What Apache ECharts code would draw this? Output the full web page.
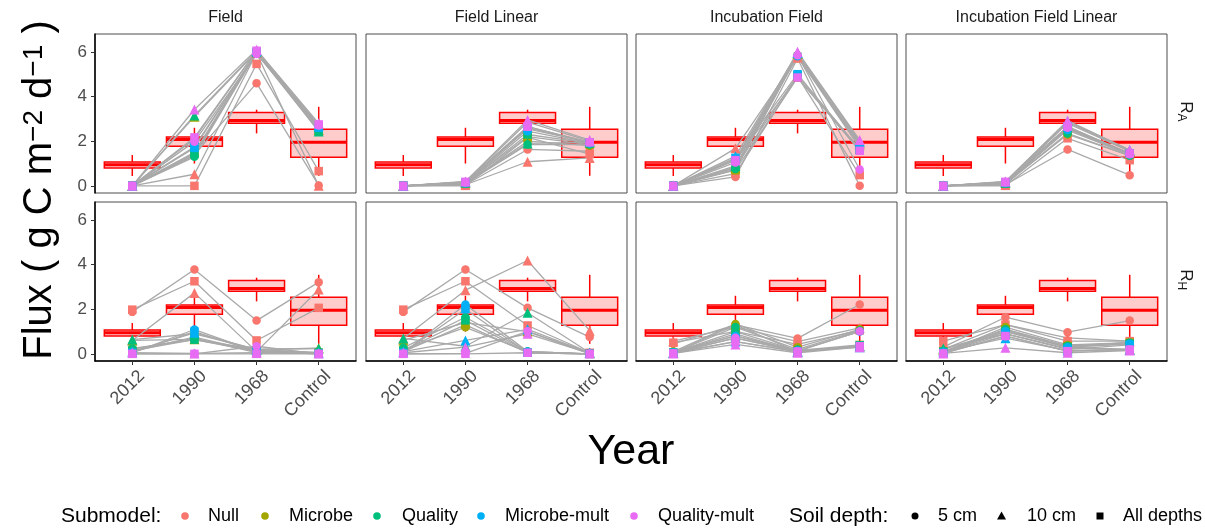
<!DOCTYPE html>
<html><head><meta charset="utf-8">
<script src="https://cdn.jsdelivr.net/npm/echarts@6/dist/echarts.min.js"></script>
<style>html,body{margin:0;padding:0;background:#fff}#c{width:1205px;height:528px}</style>
</head><body><div id="c"></div>
<script>
const categories = ['2012', '1990', '1968', 'Control'];
const facets = ['Field', 'Field Linear', 'Incubation Field', 'Incubation Field Linear'];
const responses = ['A', 'H'];
const submodels = ['Null', 'Microbe', 'Quality', 'Microbe-mult', 'Quality-mult'];
const submodelColors = ['#F8766D', '#A3A500', '#00BF7D', '#00B0F6', '#E76BF3'];
const depths = ['5 cm', '10 cm', 'All depths'];
const depthSymbols = ['circle', 'triangle', 'rect'];
const yTicks = [0, 2, 4, 6];
// observed boxplot stats per category: [lower whisker, Q1, median, Q3, upper whisker]
const boxStats = [
  [0.44, 0.80, 0.95, 1.07, 1.38],
  [1.00, 1.77, 2.08, 2.19, 2.60],
  [2.35, 2.80, 2.93, 3.29, 3.41],
  [0.45, 1.28, 1.95, 2.53, 3.54]
];
// rows: Null(5cm,10cm,All), Microbe(...), Quality(...), Microbe-mult(...), Quality-mult(...); columns = categories
const field_RA = [
  [0, 1.40, 4.60, 0.02], [0, 0.52, 5.95, 0.00], [0, 0.00, 5.46, 0.66],
  [0, 1.35, 6.00, 2.60], [0, 3.10, 6.00, 2.50], [0, 1.50, 5.95, 2.55],
  [0, 1.30, 5.95, 2.45], [0, 3.15, 6.05, 2.43], [0, 1.45, 6.00, 2.50],
  [0, 1.75, 6.00, 2.65], [0, 2.10, 6.05, 2.70], [0, 1.70, 5.95, 2.60],
  [0, 1.98, 5.90, 2.70], [0, 3.42, 6.10, 2.80], [0, 2.17, 6.05, 2.75]
];
const fieldLinear_RA = [
  [0, 0.05, 1.63, 1.55], [0, 0.05, 1.08, 1.25], [0, 0.00, 2.17, 1.42],
  [0, 0.10, 2.00, 1.80], [0, 0.15, 2.60, 1.95], [0, 0.12, 2.20, 1.85],
  [0, 0.10, 1.85, 1.85], [0, 0.15, 1.90, 1.95], [0, 0.12, 2.30, 1.90],
  [0, 0.12, 2.45, 1.90], [0, 0.18, 2.85, 2.00], [0, 0.15, 2.55, 1.95],
  [0, 0.15, 2.65, 1.95], [0, 0.20, 2.95, 2.05], [0, 0.18, 2.65, 1.95]
];
const incubation_RA = [
  [0, 0.40, 5.70, 0.00], [0, 1.68, 5.75, 1.90], [0, 0.55, 4.90, 0.48],
  [0, 0.73, 5.85, 1.78], [0, 0.80, 5.90, 1.85], [0, 0.70, 4.85, 1.60],
  [0, 0.75, 5.85, 1.80], [0, 0.90, 5.95, 1.95], [0, 0.85, 4.95, 1.65],
  [0, 1.20, 5.80, 1.70], [0, 1.33, 5.95, 2.00], [0, 1.25, 5.00, 1.60],
  [0, 1.05, 5.85, 0.73], [0, 1.15, 6.00, 2.05], [0, 1.15, 4.85, 1.57]
];
const incubationLinear_RA = [
  [0, 0.05, 1.63, 0.48], [0, 0.05, 2.60, 1.45], [0, 0.00, 2.13, 1.15],
  [0, 0.10, 2.30, 1.35], [0, 0.15, 2.80, 1.55], [0, 0.12, 2.55, 1.40],
  [0, 0.10, 2.35, 1.35], [0, 0.15, 2.85, 1.55], [0, 0.12, 2.60, 1.45],
  [0, 0.12, 2.50, 1.40], [0, 0.18, 2.90, 1.60], [0, 0.15, 2.65, 1.45],
  [0, 0.15, 2.60, 1.42], [0, 0.20, 2.92, 1.60], [0, 0.18, 2.65, 1.45]
];
const field_RH = [
  [1.88, 3.78, 1.49, 3.21], [0.60, 2.73, 0.10, 2.88], [1.98, 3.25, 0.60, 2.06],
  [0.20, 0.70, 0.05, 0.02], [0.60, 0.65, 0.20, 0.25], [0.10, 0.75, 0.10, 0.05],
  [0.24, 0.64, 0.10, 0.02], [0.64, 0.90, 0.20, 0.24], [0.15, 0.64, 0.15, 0.05],
  [0.05, 1.09, 0.10, 0.00], [0.10, 0.94, 0.20, 0.05], [0.05, 1.00, 0.10, 0.00],
  [0.00, 0.00, 0.34, 0.00], [0.05, 0.02, 0.05, 0.02], [0.00, 0.00, 0.00, 0.00]
];
const fieldLinear_RH = [
  [1.88, 3.78, 2.06, 0.75], [0.69, 2.85, 4.18, 1.04], [1.98, 3.25, 1.27, 0.05],
  [0.20, 1.19, 0.10, 0.00], [0.60, 1.40, 1.00, 0.05], [0.10, 1.30, 0.05, 0.00],
  [0.27, 1.64, 0.10, 0.00], [0.69, 0.34, 1.84, 0.05], [0.15, 1.50, 0.05, 0.00],
  [0.05, 2.21, 0.10, 0.00], [0.10, 0.60, 1.10, 0.05], [0.05, 2.00, 0.05, 0.00],
  [0.00, 0.02, 1.01, 0.00], [0.05, 0.30, 0.90, 0.02], [0.00, 0.00, 0.05, 0.00]
];
const incubation_RH = [
  [0.45, 1.30, 0.69, 2.21], [0.57, 1.20, 0.55, 1.16], [0.50, 1.01, 0.42, 1.05],
  [0.10, 1.34, 0.30, 1.10], [0.05, 1.30, 0.10, 0.35], [0.05, 1.00, 0.15, 0.40],
  [0.05, 1.20, 0.20, 1.05], [0.05, 0.80, 0.10, 0.35], [0.05, 0.90, 0.10, 0.38],
  [0.05, 0.80, 0.15, 1.00], [0.05, 0.55, 0.10, 0.30], [0.05, 0.70, 0.10, 0.35],
  [0.02, 0.72, 0.12, 1.01], [0.02, 0.42, 0.05, 0.30], [0.02, 0.55, 0.10, 0.34]
];
const incubationLinear_RH = [
  [0.30, 1.64, 0.97, 1.49], [0.20, 1.31, 0.72, 0.57], [0.57, 1.31, 0.57, 0.57],
  [0.05, 1.20, 0.40, 0.50], [0.20, 1.05, 0.30, 0.20], [0.10, 1.10, 0.35, 0.50],
  [0.10, 1.10, 0.35, 0.50], [0.24, 0.90, 0.25, 0.20], [0.10, 1.00, 0.30, 0.45],
  [0.05, 1.01, 0.30, 0.45], [0.10, 0.70, 0.15, 0.18], [0.05, 0.90, 0.20, 0.40],
  [0.02, 0.79, 0.12, 0.20], [0.02, 0.27, 0.05, 0.15], [0.02, 0.80, 0.12, 0.19]
];

const panels = [field_RA, fieldLinear_RA, incubation_RA, incubationLinear_RA,
                field_RH, fieldLinear_RH, incubation_RH, incubationLinear_RH];

const FONT = '"Liberation Sans", Arial, Helvetica, sans-serif';
const gridLefts = [95, 366, 636, 906];
const gridTops = [34, 202];
const GW = 261, GH = 159;
const YMIN = -0.32, YMAX = 6.8;
const tickPos = categories.map((c, i) => i + 1);
const labelPos = tickPos.map(v => v + 0.05);

const grids = [], xAxes = [], yAxes = [], series = [];

function renderBox(params, api) {
  const x = api.value(0);
  const lo = api.value(1), q1 = api.value(2), md = api.value(3), q3 = api.value(4), hi = api.value(5);
  const w = api.size([0.9, 0])[0];
  const pT = api.coord([x, q3]), pB = api.coord([x, q1]);
  const pH = api.coord([x, hi]), pL = api.coord([x, lo]), pM = api.coord([x, md]);
  const cx = pT[0];
  const red = '#FF0000';
  return {
    type: 'group', children: [
      { type: 'line', shape: { x1: cx, y1: pH[1], x2: cx, y2: pT[1] }, style: { stroke: red, lineWidth: 1.5 } },
      { type: 'line', shape: { x1: cx, y1: pB[1], x2: cx, y2: pL[1] }, style: { stroke: red, lineWidth: 1.5 } },
      { type: 'rect', shape: { x: cx - w / 2, y: pT[1], width: w, height: pB[1] - pT[1] },
        style: { fill: 'rgba(255,0,0,0.2)', stroke: red, lineWidth: 1.5 } },
      { type: 'line', shape: { x1: cx - w / 2, y1: pM[1], x2: cx + w / 2, y2: pM[1] }, style: { stroke: red, lineWidth: 3 } }
    ]
  };
}

panels.forEach((rows, p) => {
  const col = p % 4, row = Math.floor(p / 4);
  grids.push({ left: gridLefts[col], top: gridTops[row], width: GW, height: GH, show: true,
    borderColor: '#4D4D4D', borderWidth: 1, backgroundColor: '#fff', containLabel: false, outerBoundsMode: 'none' });
  xAxes.push({
    type: 'value', gridIndex: p, min: 0.4, max: 4.6,
    axisLine: { show: row === 1, onZero: false, lineStyle: { color: '#000', width: 1.5 } },
    axisTick: { show: row === 1, customValues: tickPos, length: 4, lineStyle: { color: '#333' } },
    axisLabel: { show: row === 1, customValues: labelPos, formatter: v => categories[Math.round(v) - 1],
      rotate: 45, verticalAlign: 'top', fontSize: 18, color: '#4D4D4D', margin: 6, fontFamily: FONT },
    splitLine: { show: false }
  });
  yAxes.push({
    type: 'value', gridIndex: p, min: YMIN, max: YMAX,
    axisLine: { show: col === 0, onZero: false, lineStyle: { color: '#000', width: 1.5 } },
    axisTick: { show: col === 0, customValues: yTicks, length: 4, lineStyle: { color: '#333' } },
    axisLabel: { show: col === 0, customValues: yTicks, fontSize: 17, color: '#4D4D4D', margin: 8, fontFamily: FONT },
    splitLine: { show: false }
  });
  series.push({
    type: 'custom', xAxisIndex: p, yAxisIndex: p, renderItem: renderBox, z: 2, silent: true,
    encode: { x: 0, y: [1, 2, 3, 4, 5] },
    data: boxStats.map((s, i) => [i + 1].concat(s))
  });
  rows.forEach((vals, r) => {
    series.push({
      type: 'line', xAxisIndex: p, yAxisIndex: p, z: 3, silent: true, symbol: 'none',
      lineStyle: { color: '#A9A9A9', width: 1.3 },
      data: vals.map((v, i) => [i + 1, v])
    });
  });
  rows.forEach((vals, r) => {
    const s = Math.floor(r / 3), d = r % 3;
    series.push({
      type: 'scatter', xAxisIndex: p, yAxisIndex: p, z: 4, silent: true,
      name: submodels[s] + ' / ' + depths[d],
      symbol: depthSymbols[d], symbolSize: d === 1 ? 10 : 8.5,
      itemStyle: { color: submodelColors[s], opacity: 1 },
      data: vals.map((v, i) => [i + 1, v])
    });
  });
});

const graphics = [];
facets.forEach((f, c) => {
  graphics.push({ type: 'text', x: gridLefts[c] + GW / 2, y: 18,
    style: { text: f, fontSize: 16, fill: '#1A1A1A', align: 'center', verticalAlign: 'middle', fontFamily: FONT } });
});
responses.forEach((r, i) => {
  graphics.push({ type: 'group', x: 1186, y: gridTops[i] + GH / 2, rotation: -Math.PI / 2, children: [
    { type: 'text', x: 0, y: 0, style: { text: 'R', fontSize: 17, fill: '#1A1A1A', align: 'right', verticalAlign: 'middle', fontFamily: FONT } },
    { type: 'text', x: 0, y: 5, style: { text: r, fontSize: 12, fill: '#1A1A1A', align: 'left', verticalAlign: 'middle', fontFamily: FONT } }
  ] });
});
graphics.push({ type: 'text', x: 631, y: 452,
  style: { text: 'Year', fontSize: 43, fill: '#000', align: 'center', verticalAlign: 'middle', fontFamily: FONT } });
graphics.push({ type: 'text', x: 40, y: 190, rotation: Math.PI / 2,
  style: { text: '{b|Flux ( g C m}{s|\u22122}{b| d}{s|\u22121}{b| )}', align: 'center', verticalAlign: 'middle',
    rich: { b: { fontSize: 40, fill: '#000', fontFamily: FONT }, s: { fontSize: 28, fill: '#000', fontFamily: FONT, verticalAlign: 'top' } } } });

// legend
const LY = 516;
graphics.push({ type: 'text', x: 61, y: LY, style: { text: 'Submodel:', fontSize: 21, fill: '#000', verticalAlign: 'middle', fontFamily: FONT } });
const subDotX = [185, 265, 377, 481, 634];
const subTextX = [208, 289, 402, 505, 658];
submodels.forEach((s, i) => {
  graphics.push({ type: 'circle', shape: { cx: subDotX[i], cy: LY, r: 3.8 }, style: { fill: submodelColors[i] } });
  graphics.push({ type: 'text', x: subTextX[i], y: LY, style: { text: s, fontSize: 18, fill: '#000', verticalAlign: 'middle', fontFamily: FONT } });
});
graphics.push({ type: 'text', x: 789, y: LY, style: { text: 'Soil depth:', fontSize: 21, fill: '#000', verticalAlign: 'middle', fontFamily: FONT } });
const depDotX = [915, 1001.5, 1100];
const depTextX = [938, 1027, 1123];
graphics.push({ type: 'circle', shape: { cx: depDotX[0], cy: LY, r: 3.5 }, style: { fill: '#000' } });
graphics.push({ type: 'polygon', shape: { points: [[depDotX[1], LY - 4.5], [depDotX[1] + 4.5, LY + 3.5], [depDotX[1] - 4.5, LY + 3.5]] }, style: { fill: '#000' } });
graphics.push({ type: 'rect', shape: { x: depDotX[2] - 3.5, y: LY - 3.5, width: 7, height: 7 }, style: { fill: '#000' } });
depths.forEach((d, i) => {
  graphics.push({ type: 'text', x: depTextX[i], y: LY, style: { text: d, fontSize: 18, fill: '#000', verticalAlign: 'middle', fontFamily: FONT } });
});

const chart = echarts.init(document.getElementById('c'), null, { renderer: 'canvas' });
chart.setOption({
  animation: false,
  backgroundColor: '#fff',
  textStyle: { fontFamily: FONT },
  grid: grids, xAxis: xAxes, yAxis: yAxes, series: series,
  graphic: graphics
});
</script></body></html>
